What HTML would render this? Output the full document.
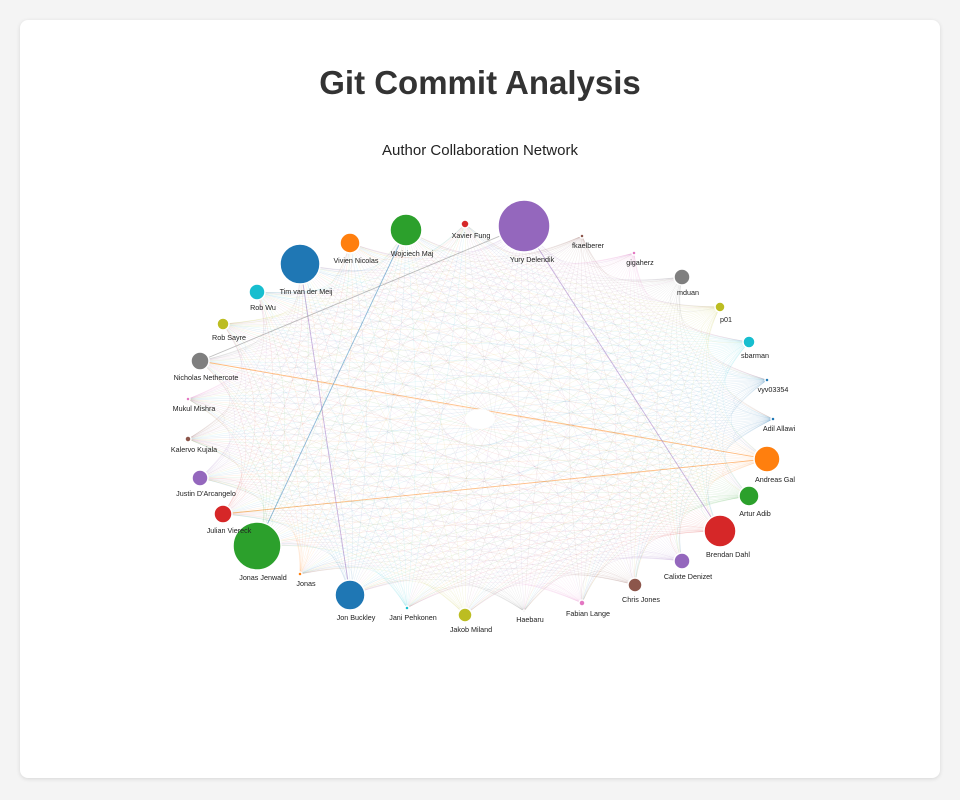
<!DOCTYPE html>
<html><head><meta charset="utf-8">
<style>
html,body{margin:0;padding:0;background:#f4f4f4;width:960px;height:800px;overflow:hidden;font-family:"Liberation Sans",sans-serif;}
.card{position:absolute;left:20px;top:20px;width:920px;height:758px;background:#fff;border-radius:8px;box-shadow:0 1px 4px rgba(0,0,0,0.12);}
h1{position:absolute;left:0;width:960px;top:64px;margin:0;text-align:center;font-size:33px;font-weight:bold;color:#333;}
.sub{position:absolute;left:0;width:960px;top:142px;text-align:center;font-size:15px;color:#222;}
svg{position:absolute;left:0;top:0;}
</style></head><body>
<div class="card"></div>
<h1>Git Commit Analysis</h1>
<div class="sub">Author Collaboration Network</div>
<svg id="g" width="960" height="800" xmlns="http://www.w3.org/2000/svg"><g id="e"></g><g id="n"></g></svg>
<script>
var N=[["Yury Delendik",524,226,26,"#9467bd"],["fkaelberer",582,236,2,"#8c564b"],["gigaherz",634,253,2,"#e377c2"],["mduan",682,277,8,"#7f7f7f"],["p01",720,307,5,"#bcbd22"],["sbarman",749,342,6,"#17becf"],["vyv03354",767,380,2,"#1f77b4"],["Adil Allawi",773,419,2,"#1f77b4"],["Andreas Gal",767,459,13,"#ff7f0e"],["Artur Adib",749,496,10,"#2ca02c"],["Brendan Dahl",720,531,16,"#d62728"],["Calixte Denizet",682,561,8,"#9467bd"],["Chris Jones",635,585,7,"#8c564b"],["Fabian Lange",582,603,3,"#e377c2"],["Haebaru",524,611,1,"#7f7f7f"],["Jakob Miland",465,615,7,"#bcbd22"],["Jani Pehkonen",407,608,2,"#17becf"],["Jon Buckley",350,595,15,"#1f77b4"],["Jonas",300,574,2,"#ff7f0e"],["Jonas Jenwald",257,546,24,"#2ca02c"],["Julian Viereck",223,514,9,"#d62728"],["Justin D'Arcangelo",200,478,8,"#9467bd"],["Kalervo Kujala",188,439,3,"#8c564b"],["Mukul Mishra",188,399,2,"#e377c2"],["Nicholas Nethercote",200,361,9,"#7f7f7f"],["Rob Sayre",223,324,6,"#bcbd22"],["Rob Wu",257,292,8,"#17becf"],["Tim van der Meij",300,264,20,"#1f77b4"],["Vivien Nicolas",350,243,10,"#ff7f0e"],["Wojciech Maj",406,230,16,"#2ca02c"],["Xavier Fung",465,224,4,"#d62728"]];
var ns="http://www.w3.org/2000/svg",E=document.getElementById("e"),G=document.getElementById("n");
function el(t,a,p){var x=document.createElementNS(ns,t);for(var k in a)x.setAttribute(k,a[k]);p.appendChild(x);return x;}
var cx=480,cy=419;
for(var i=0;i<N.length;i++)for(var j=i+1;j<N.length;j++){
 var a=N[i],b=N[j];
 var mx=(a[1]+b[1])/2,my=(a[2]+b[2])/2;
 var qx=mx+(cx-mx)*0.25,qy=my+(cy-my)*0.25;
 el("path",{d:"M"+a[1]+","+a[2]+" Q"+qx+","+qy+" "+b[1]+","+b[2],fill:"none",stroke:a[4],"stroke-width":0.5,"stroke-opacity":0.13},E);
}
[[24,8,"#ff7f0e"],[20,8,"#ff7f0e"],[0,10,"#9467bd"],[27,17,"#9467bd"],[0,24,"#7f7f7f"],[29,19,"#1f77b4"]].forEach(function(p){
 var a=N[p[0]],b=N[p[1]];el("line",{x1:a[1],y1:a[2],x2:b[1],y2:b[2],stroke:p[2],"stroke-width":0.9,"stroke-opacity":0.5},E);});
el("ellipse",{cx:480,cy:419,rx:15,ry:10,fill:"#fff"},E);
N.forEach(function(d){
 el("circle",{cx:d[1],cy:d[2],r:d[3],fill:d[4],stroke:"#fff","stroke-width":1.5},G);
 var t=el("text",{x:d[1]+(d[3]>12?(d[1]>480?8:6):6),y:d[2]+d[3]+10,"font-size":7.2,"text-anchor":"middle",fill:"#222","font-family":"Liberation Sans, sans-serif"},G);
 t.textContent=d[0];
});
</script>
</body></html>
